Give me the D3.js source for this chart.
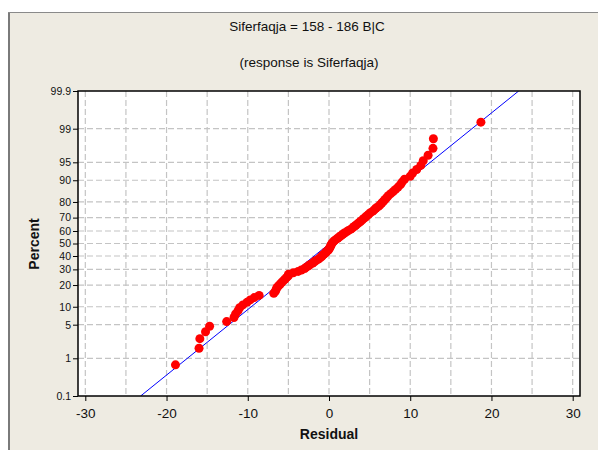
<!DOCTYPE html>
<html>
<head>
<meta charset="utf-8">
<script src="https://cdn.jsdelivr.net/npm/d3@7"></script>
<style>
  body { margin: 0; background: #fff; }
  svg text { font-family: "Liberation Sans", Arial, sans-serif; fill: #111; }
</style>
</head>
<body>
<div id="chart"></div>
<script>
'use strict';

// residuals, sorted (n = 100)
var residuals = [
  -18.9, -16.0, -15.9, -15.2, -14.7, -12.6, -11.7, -11.5, -11.2, -11.0,
  -10.6, -10.1, -9.7, -9.2, -8.6, -6.8, -6.6, -6.5, -6.4, -6.2,
  -6.0, -5.8, -5.6, -5.4, -5.2, -5.0, -5.0, -4.4, -3.8, -3.4,
  -3.0, -2.8, -2.5, -2.3, -2.0, -1.8, -1.6, -1.3, -1.1, -0.9,
  -0.8, -0.6, -0.4, -0.3, -0.1, 0.0, 0.1, 0.15, 0.25, 0.3,
  0.4, 0.55, 0.7, 0.9, 1.1, 1.3, 1.5, 1.7, 1.9, 2.2,
  2.4, 2.7, 2.9, 3.1, 3.3, 3.5, 3.7, 3.9, 4.1, 4.3,
  4.5, 4.7, 4.9, 5.1, 5.4, 5.6, 5.8, 6.1, 6.3, 6.5,
  6.7, 6.9, 7.1, 7.3, 7.6, 7.9, 8.2, 8.5, 8.8, 9.0,
  9.3, 10.0, 10.3, 10.8, 11.3, 11.6, 12.2, 12.8, 12.85, 18.7
];

var fitMean = 0.08;
var fitSd = 7.53;

var xTicks = [-30, -20, -10, 0, 10, 20, 30];
var xGrid = [-30, -25, -20, -15, -10, -5, 0, 5, 10, 15, 20, 25, 30];
var yTicks = [0.1, 1, 5, 10, 20, 30, 40, 50, 60, 70, 80, 90, 95, 99, 99.9];
var yGrid = [1, 5, 10, 20, 30, 40, 50, 60, 70, 80, 90, 95, 99];

var titleText = 'Siferfaqja = 158 - 186 B|C';
var subtitleText = '(response is Siferfaqja)';

var chart = {};
chart.w = 598;
chart.h = 450;
chart.plot = {left: 78, top: 91, right: 580, bottom: 396};

// inverse normal cdf (Acklam)
chart.qnorm = function (p) {
    var a = [-39.69683028665376, 220.9460984245205, -275.9285104469687, 138.3577518672690, -30.66479806614716, 2.506628277459239];
    var b = [-54.47609879822406, 161.5858368580409, -155.6989798598866, 66.80131188771972, -13.28068155288572];
    var c = [-0.007784894002430293, -0.3223964580411365, -2.400758277161838, -2.549732539343734, 4.374664141464968, 2.938163982698783];
    var d = [0.007784695709041462, 0.3224671290700398, 2.445134137142996, 3.754408661907416];
    var q, r;
    if (p < 0.02425) {
        q = Math.sqrt(-2 * Math.log(p));
        return (((((c[0]*q+c[1])*q+c[2])*q+c[3])*q+c[4])*q+c[5]) / ((((d[0]*q+d[1])*q+d[2])*q+d[3])*q+1);
    }
    if (p > 1 - 0.02425) {
        q = Math.sqrt(-2 * Math.log(1 - p));
        return -(((((c[0]*q+c[1])*q+c[2])*q+c[3])*q+c[4])*q+c[5]) / ((((d[0]*q+d[1])*q+d[2])*q+d[3])*q+1);
    }
    q = p - 0.5;
    r = q * q;
    return (((((a[0]*r+a[1])*r+a[2])*r+a[3])*r+a[4])*r+a[5])*q / (((((b[0]*r+b[1])*r+b[2])*r+b[3])*r+b[4])*r+1);
};

var svg = d3.select('#chart').append('svg')
    .attr('width', chart.w)
    .attr('height', chart.h);

// window frame
svg.append('rect').attr('x', 8).attr('y', 12).attr('width', chart.w).attr('height', chart.h)
    .attr('fill', '#eeebe2');
svg.append('line').attr('x1', 9).attr('x2', 9).attr('y1', 12).attr('y2', chart.h)
    .attr('stroke', '#7a7a7a').attr('stroke-width', 2);
svg.append('line').attr('x1', 8).attr('x2', chart.w).attr('y1', 12.5).attr('y2', 12.5)
    .attr('stroke', '#8a8a8a').attr('stroke-width', 1);

var p = chart.plot;
var xScale = d3.scaleLinear().domain([-30.9, 30.9]).range([p.left, p.right]);
var zMax = chart.qnorm(0.999);
var zScale = d3.scaleLinear().domain([-zMax, zMax]).range([p.bottom, p.top]);
var yPos = function (pct) { return zScale(chart.qnorm(pct / 100)); };

svg.append('rect')
    .attr('x', p.left).attr('y', p.top)
    .attr('width', p.right - p.left).attr('height', p.bottom - p.top)
    .attr('fill', '#fff');

// grid
var grid = svg.append('g').attr('stroke', '#c4c4c4').attr('stroke-width', 1.2)
    .attr('stroke-dasharray', '6,3');
grid.selectAll('.vg').data(xGrid).enter().append('line')
    .attr('x1', function (d) { return xScale(d); })
    .attr('x2', function (d) { return xScale(d); })
    .attr('y1', p.top).attr('y2', p.bottom);
grid.selectAll('.hg').data(yGrid).enter().append('line')
    .attr('x1', p.left).attr('x2', p.right)
    .attr('y1', function (d) { return yPos(d); })
    .attr('y2', function (d) { return yPos(d); });

// fitted line
svg.append('defs').append('clipPath').attr('id', 'clip').append('rect')
    .attr('x', p.left).attr('y', p.top)
    .attr('width', p.right - p.left).attr('height', p.bottom - p.top);
var lineX0 = fitMean - zMax * fitSd;
var lineX1 = fitMean + zMax * fitSd;
svg.append('line')
    .attr('clip-path', 'url(#clip)')
    .attr('x1', xScale(lineX0)).attr('y1', zScale(-zMax))
    .attr('x2', xScale(lineX1)).attr('y2', zScale(zMax))
    .attr('stroke', '#0000ff').attr('stroke-width', 1);

// points, median ranks (i - 0.3) / (n + 0.4)
var n = residuals.length;
svg.append('g').selectAll('circle')
    .data(residuals)
    .enter()
    .append('circle')
    .attr('cx', function (d) { return xScale(d); })
    .attr('cy', function (d, i) { return yPos(100 * (i + 1 - 0.3) / (n + 0.4)); })
    .attr('r', 4.5)
    .attr('fill', '#ff0000');

// axes
var xAxis = d3.axisBottom(xScale).tickValues(xTicks).tickSize(5).tickSizeOuter(0)
    .tickFormat(function (d) { return String(d); });
var yAxis = d3.axisLeft(zScale)
    .tickValues(yTicks.map(function (t) { return chart.qnorm(t / 100); }))
    .tickFormat(function (d, i) { return String(yTicks[i]); })
    .tickSize(5).tickSizeOuter(0);

var gx = svg.append('g').attr('transform', 'translate(0,' + p.bottom + ')').call(xAxis);
gx.select('.domain').remove();
gx.selectAll('text').attr('font-size', 13.5).attr('dy', '1.05em')
    .style('font-family', '"Liberation Sans", Arial, sans-serif');

var gy = svg.append('g').attr('transform', 'translate(' + p.left + ',0)').call(yAxis);
gy.select('.domain').remove();
gy.selectAll('text').attr('font-size', 10.5).attr('x', -7)
    .style('font-family', '"Liberation Sans", Arial, sans-serif');

// plot frame
svg.append('rect')
    .attr('x', p.left).attr('y', p.top)
    .attr('width', p.right - p.left).attr('height', p.bottom - p.top)
    .attr('fill', 'none').attr('stroke', '#000').attr('stroke-width', 1.5);

// titles
svg.append('text').attr('x', 307).attr('y', 31).attr('text-anchor', 'middle')
    .attr('font-size', 13.5).text(titleText);
svg.append('text').attr('x', 309).attr('y', 67).attr('text-anchor', 'middle')
    .attr('font-size', 13.5).text(subtitleText);
svg.append('text').attr('x', 329).attr('y', 439).attr('text-anchor', 'middle')
    .attr('font-size', 14).attr('font-weight', 'bold').text('Residual');
svg.append('text').attr('transform', 'translate(39,244) rotate(-90)')
    .attr('text-anchor', 'middle')
    .attr('font-size', 14).attr('font-weight', 'bold').text('Percent');
</script>
</body>
</html>
